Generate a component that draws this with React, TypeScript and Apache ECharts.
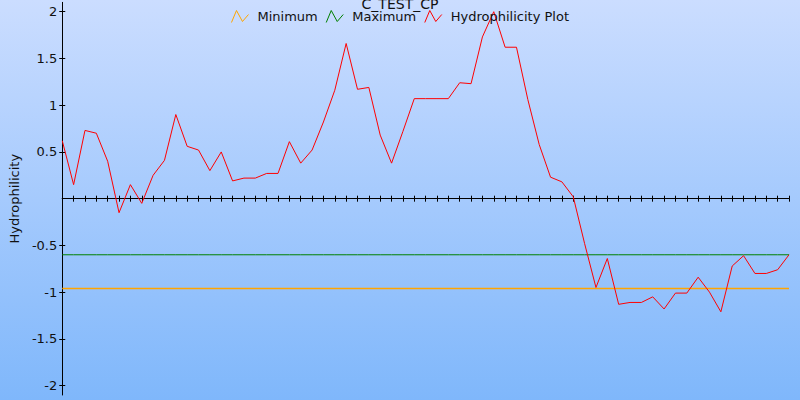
import React, { useEffect, useRef } from "react";
import * as echarts from "echarts";

const TITLE = "C_TEST_CP";
const Y_AXIS_NAME = "Hydrophilicity";
const SERIES_NAMES = ["Minimum", "Maximum", "Hydrophilicity Plot"];

const hydrophilicity = [
  0.62, 0.15, 0.73, 0.7, 0.4, -0.15, 0.15, -0.05, 0.25, 0.41,
  0.9, 0.56, 0.52, 0.3, 0.5, 0.19, 0.22, 0.22, 0.27, 0.27,
  0.61, 0.38, 0.52, 0.82, 1.16, 1.66, 1.17, 1.19, 0.68, 0.38,
  0.72, 1.07, 1.07, 1.07, 1.07, 1.24, 1.23, 1.73, 2.0, 1.62,
  1.62, 1.06, 0.58, 0.23, 0.18, 0.02, -0.48, -0.95, -0.64, -1.13,
  -1.11, -1.11, -1.05, -1.18, -1.01, -1.01, -0.84, -1.0, -1.21, -0.72,
  -0.61, -0.8, -0.8, -0.76, -0.6,
];

const MINIMUM = -0.96;
const MAXIMUM = -0.6;

const positions = hydrophilicity.map((_, i) => String(i + 1));
const minimumLine = positions.map(() => MINIMUM);
const maximumLine = positions.map(() => MAXIMUM);

const yTickValues = [-2, -1.5, -1, -0.5, 0.5, 1, 1.5, 2];
const Y_MIN = -2.1;
const Y_MAX = 2.1;

const COLORS = ["#ffa500", "#008000", "#ff0000"];
const FONT = "DejaVu Sans";
const ICON = "path://M0,12L5,0L11,11L17,4";

export default function App() {
  const ref = useRef<HTMLDivElement>(null);

  useEffect(() => {
    document.body.style.margin = "0";
    if (!ref.current) return;
    const chart = echarts.init(ref.current, null, { renderer: "svg" });

    const xAxisBase = {
      type: "category" as const,
      data: positions,
      boundaryGap: false,
      axisLine: { onZero: true, lineStyle: { color: "#000", width: 1 } },
      axisLabel: { show: false },
      splitLine: { show: false },
    };

    chart.setOption({
      animation: false,
      backgroundColor: {
        type: "linear",
        x: 0,
        y: 0,
        x2: 0,
        y2: 1,
        colorStops: [
          { offset: 0, color: "#cbddff" },
          { offset: 1, color: "#7fb7fb" },
        ],
      },
      textStyle: { fontFamily: FONT },
      title: {
        text: TITLE,
        left: "center",
        top: -3,
        padding: 0,
        textStyle: { fontFamily: FONT, fontSize: 14, fontWeight: "normal", color: "#111" },
      },
      legend: {
        top: 10,
        left: "center",
        padding: 0,
        itemWidth: 17,
        itemHeight: 12,
        itemGap: 8,
        textStyle: { fontFamily: FONT, fontSize: 13, color: "#111", padding: [0, 0, 0, 4] },
        data: SERIES_NAMES.map((name, i) => ({
          name,
          icon: ICON,
          itemStyle: { color: "transparent", borderColor: COLORS[i], borderWidth: 1 },
        })),
      },
      grid: { left: 60, right: 11, top: 2.35, bottom: 5, containLabel: false },
      xAxis: [
        {
          ...xAxisBase,
          position: "bottom",
          axisTick: { show: true, interval: 0, length: 3, inside: false, lineStyle: { color: "#000" } },
        },
        {
          ...xAxisBase,
          position: "bottom",
          axisTick: { show: true, interval: 0, length: 3, inside: true, lineStyle: { color: "#000" } },
        },
      ],
      yAxis: [
        {
          type: "value",
          min: Y_MIN,
          max: Y_MAX,
          position: "left",
          name: Y_AXIS_NAME,
          nameLocation: "middle",
          nameGap: 38,
          nameTextStyle: { fontFamily: FONT, fontSize: 13, color: "#111" },
          axisLine: { show: true, onZero: false, lineStyle: { color: "#000", width: 1 } },
          axisTick: { show: true, length: 3, inside: false, customValues: yTickValues, lineStyle: { color: "#000" } },
          axisLabel: { show: true, margin: 5, customValues: yTickValues, fontFamily: FONT, fontSize: 13, color: "#111" },
          splitLine: { show: false },
        },
        {
          type: "value",
          min: Y_MIN,
          max: Y_MAX,
          position: "left",
          axisLine: { show: false, onZero: false },
          axisTick: { show: true, length: 3, inside: true, customValues: yTickValues, lineStyle: { color: "#000" } },
          axisLabel: { show: false },
          splitLine: { show: false },
        },
      ],
      series: [
        {
          name: SERIES_NAMES[0],
          type: "line",
          data: minimumLine,
          symbol: "none",
          color: COLORS[0],
          lineStyle: { width: 1.5, color: COLORS[0] },
        },
        {
          name: SERIES_NAMES[1],
          type: "line",
          data: maximumLine,
          symbol: "none",
          color: COLORS[1],
          lineStyle: { width: 1, color: COLORS[1] },
        },
        {
          name: SERIES_NAMES[2],
          type: "line",
          data: hydrophilicity,
          symbol: "none",
          color: COLORS[2],
          lineStyle: { width: 1, color: COLORS[2] },
        },
      ],
    });

    return () => chart.dispose();
  }, []);

  return <div ref={ref} style={{ width: 800, height: 400 }} />;
}
